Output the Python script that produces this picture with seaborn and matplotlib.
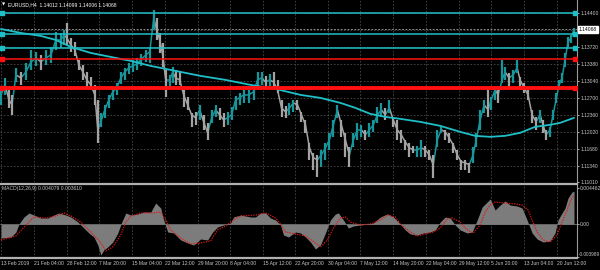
import numpy as np
import pandas as pd
import matplotlib
matplotlib.use("Agg")
import matplotlib.pyplot as plt
import seaborn as sns

# ---------------- data ----------------
bars = [0, 4, 8, 11, 15, 20, 25, 30, 35, 40, 45, 50, 55, 60, 63, 66, 70, 74, 78, 82,
        86, 90, 94, 97, 100, 104, 108, 112, 116, 120, 124, 128, 132, 136, 140, 145, 149, 153, 156, 159,
        162, 165, 169, 172, 175, 179, 183, 187, 191, 195, 199, 203, 207, 211, 215, 219, 223, 227, 231, 235,
        239, 243, 248, 253, 257, 261, 265, 269, 273, 277, 281, 285, 289, 293, 297, 301, 305, 309, 313, 317,
        321, 325, 329, 333, 337, 341, 345, 349, 353, 357, 361, 365, 369, 373, 377, 381, 385, 389, 393, 397,
        401, 405, 409, 413, 417, 421, 425, 429, 433, 437, 441, 445, 449, 453, 457, 461, 465, 469, 473, 476,
        480, 484, 488, 491, 495, 498, 502, 505, 509, 513, 517, 520, 524, 528, 532, 536, 540, 543, 546, 550,
        553, 556, 559, 562, 565, 568, 571, 574]
high = [1.12894, 1.13094, 1.12854, 1.12754, 1.13294, 1.13214, 1.13394, 1.13654, 1.13614, 1.13554, 1.13654, 1.13714, 1.14014, 1.13994, 1.14054, 1.14194, 1.13894, 1.13814, 1.13454, 1.13354,
        1.13214, 1.13114, 1.12954, 1.12654, 1.12394, 1.12554, 1.12754, 1.12894, 1.12994, 1.13214, 1.13294, 1.13394, 1.13454, 1.13494, 1.13574, 1.13654, 1.13694, 1.14454, 1.14294, 1.13994,
        1.13794, 1.13254, 1.13154, 1.13314, 1.13254, 1.13214, 1.12854, 1.12714, 1.12394, 1.12414, 1.12554, 1.12354, 1.12194, 1.12454, 1.12554, 1.12494, 1.12394, 1.12414, 1.12514, 1.12734,
        1.12794, 1.12854, 1.12854, 1.12894, 1.13214, 1.13214, 1.13134, 1.13174, 1.13214, 1.13054, 1.12654, 1.12534, 1.12594, 1.12654, 1.12654, 1.12414, 1.12254, 1.11794, 1.11594, 1.11554,
        1.11654, 1.11794, 1.11994, 1.12254, 1.12554, 1.12254, 1.11994, 1.11714, 1.11994, 1.12194, 1.12154, 1.12054, 1.12194, 1.12254, 1.12514, 1.12594, 1.12494, 1.12654, 1.12314, 1.12254,
        1.12054, 1.11854, 1.11794, 1.11734, 1.11734, 1.11854, 1.11734, 1.11654, 1.11554, 1.12054, 1.12114, 1.12054, 1.11994, 1.11794, 1.11654, 1.11454, 1.11454, 1.11394, 1.11714, 1.11994,
        1.12454, 1.12654, 1.12914, 1.12714, 1.12914, 1.12854, 1.13454, 1.13314, 1.13194, 1.13254, 1.13454, 1.13114, 1.12994, 1.12854, 1.12454, 1.12314, 1.12454, 1.12254, 1.12054, 1.12114,
        1.12454, 1.12794, 1.13054, 1.13194, 1.13594, 1.13914, 1.13954, 1.14094]
low = [1.12554, 1.12754, 1.12494, 1.12354, 1.13014, 1.12954, 1.13054, 1.13254, 1.13334, 1.13254, 1.13354, 1.13394, 1.13654, 1.13694, 1.13754, 1.13754, 1.13614, 1.13534, 1.13254, 1.13054,
       1.12894, 1.12854, 1.12554, 1.11794, 1.12114, 1.12294, 1.12494, 1.12654, 1.12754, 1.12974, 1.13054, 1.13174, 1.13214, 1.13254, 1.13334, 1.13414, 1.13394, 1.14054, 1.13854, 1.13594,
       1.13314, 1.12714, 1.12894, 1.12994, 1.12954, 1.12954, 1.12514, 1.12454, 1.12114, 1.12154, 1.12254, 1.12054, 1.11854, 1.12194, 1.12314, 1.12254, 1.12114, 1.12154, 1.12254, 1.12454,
       1.12554, 1.12594, 1.12594, 1.12654, 1.12854, 1.12954, 1.12914, 1.12934, 1.12914, 1.12794, 1.12314, 1.12294, 1.12354, 1.12414, 1.12454, 1.12214, 1.11994, 1.11454, 1.11254, 1.11114,
       1.11314, 1.11454, 1.11654, 1.11914, 1.12294, 1.11914, 1.11514, 1.11314, 1.11714, 1.11854, 1.11914, 1.11854, 1.11914, 1.12014, 1.12194, 1.12314, 1.12254, 1.12394, 1.12114, 1.11854,
       1.11794, 1.11654, 1.11514, 1.11594, 1.11514, 1.11514, 1.11514, 1.11454, 1.11094, 1.11714, 1.11994, 1.11854, 1.11794, 1.11594, 1.11454, 1.11254, 1.11254, 1.11194, 1.11394, 1.11714,
       1.12054, 1.12394, 1.12314, 1.12454, 1.12654, 1.12594, 1.12994, 1.13054, 1.12914, 1.12994, 1.13194, 1.12854, 1.12794, 1.12654, 1.12194, 1.12054, 1.12194, 1.11994, 1.11854, 1.11914,
       1.12254, 1.12594, 1.12854, 1.12994, 1.13314, 1.13714, 1.13794, 1.13994]
close = [1.12754, 1.12954, 1.12654, 1.12554, 1.13154, 1.13094, 1.13214, 1.13414, 1.13494, 1.13414, 1.13494, 1.13554, 1.13854, 1.13854, 1.13954, 1.13894, 1.13754, 1.13654, 1.13354, 1.13214,
         1.13054, 1.12954, 1.12754, 1.12054, 1.12214, 1.12454, 1.12654, 1.12814, 1.12894, 1.13094, 1.13214, 1.13294, 1.13334, 1.13374, 1.13454, 1.13554, 1.13614, 1.14294, 1.14054, 1.13854,
         1.13554, 1.13054, 1.13054, 1.13214, 1.13094, 1.13054, 1.12754, 1.12554, 1.12354, 1.12294, 1.12454, 1.12214, 1.11994, 1.12294, 1.12454, 1.12354, 1.12254, 1.12294, 1.12354, 1.12654,
         1.12694, 1.12754, 1.12754, 1.12814, 1.13054, 1.13094, 1.13014, 1.13054, 1.13014, 1.12854, 1.12494, 1.12414, 1.12494, 1.12594, 1.12554, 1.12354, 1.12154, 1.11694, 1.11494, 1.11454,
         1.11554, 1.11694, 1.11854, 1.12154, 1.12454, 1.12154, 1.11854, 1.11554, 1.11854, 1.12054, 1.12054, 1.11954, 1.12054, 1.12154, 1.12354, 1.12454, 1.12354, 1.12494, 1.12254, 1.12054,
         1.11954, 1.11814, 1.11694, 1.11654, 1.11654, 1.11694, 1.11654, 1.11554, 1.11354, 1.11854, 1.12054, 1.12014, 1.11894, 1.11754, 1.11554, 1.11414, 1.11394, 1.11354, 1.11554, 1.11854,
         1.12254, 1.12554, 1.12454, 1.12654, 1.12854, 1.12754, 1.13054, 1.13214, 1.13094, 1.13154, 1.13294, 1.13054, 1.12894, 1.12754, 1.12354, 1.12214, 1.12354, 1.12154, 1.11954, 1.12054,
         1.12354, 1.12654, 1.12954, 1.13094, 1.13454, 1.13814, 1.13894, 1.14068]

ma_bars = [0, 20, 40, 55, 70, 90, 110, 130, 150, 175, 200, 225, 250, 275, 300, 320,
           340, 355, 370, 385, 400, 420, 440, 460, 475, 490, 505, 520, 535, 550, 560, 574]
ma_price = [1.14074, 1.13994, 1.13934, 1.13854, 1.13714, 1.13594, 1.13514, 1.13434, 1.13334, 1.13234,
            1.13134, 1.13054, 1.12954, 1.12874, 1.12754, 1.12694, 1.12594, 1.12494, 1.12374, 1.12314,
            1.12274, 1.12214, 1.12134, 1.12014, 1.11934, 1.11914, 1.11934, 1.11994, 1.12114, 1.12154,
            1.12194, 1.12294]

macd_bars = [0, 10, 15, 18, 23, 28, 33, 40, 47, 53, 58, 65, 70, 77, 83, 88, 93, 97, 100, 103,
             107, 112, 117, 121, 125, 130, 137, 143, 150, 155, 160, 163, 167, 173, 180, 187, 193, 200, 207, 212,
             217, 223, 230, 233, 240, 250, 255, 260, 265, 270, 275, 280, 283, 288, 295, 300, 305, 310, 315, 320,
             325, 330, 335, 338, 343, 348, 353, 360, 367, 373, 380, 387, 393, 400, 405, 410, 417, 423, 430, 435,
             440, 445, 450, 455, 460, 467, 472, 477, 482, 487, 490, 495, 500, 505, 510, 517, 522, 527, 532, 537,
             543, 550, 555, 558, 562, 565, 568, 572, 574]
macd_main = [-1.69, -1.56, -0.95, 0.04, 0.90, 1.39, 1.14, 0.77, 0.77, 1.14, 1.39, 1.14, 0.90, 0.28, -0.46, -1.07, -1.56, -2.55, -3.78, -3.16,
             -2.79, -2.18, -1.07, 0.28, 1.39, 1.14, 1.27, 1.51, 1.51, 2.62, 2.00, 0.53, -0.95, -1.07, -1.93, -2.30, -2.55, -1.81, -1.93, -0.95,
             -0.33, -0.09, 0.16, 0.90, 1.14, 0.90, 0.90, 1.39, 1.39, 0.77, 0.53, -0.09, -1.32, -1.56, -0.95, -1.07, -1.56, -2.18, -3.04, -2.55,
             -1.07, 0.53, 1.27, 1.39, 0.53, -0.46, -0.21, -0.09, 0.04, 0.16, 0.90, 1.27, 0.90, 0.04, -0.70, -1.19, -1.32, -1.07, -0.95, -0.70,
             0.28, 0.90, 0.77, -0.09, -0.70, -1.07, -0.95, 0.53, 2.13, 2.74, 3.11, 1.76, 2.37, 2.87, 2.37, 2.25, 2.00, 0.53, -1.07, -1.81,
             -2.18, -2.06, -1.07, 0.53, 1.39, 2.00, 3.23, 3.97, 4.079]
sig_bars = [0, 15, 25, 33, 45, 55, 63, 70, 80, 90, 100, 105, 112, 120, 125, 130, 140, 150, 160, 165,
            170, 180, 190, 200, 210, 217, 225, 233, 240, 255, 265, 275, 280, 285, 295, 305, 315, 320, 327, 333,
            340, 345, 350, 360, 370, 380, 387, 395, 400, 410, 417, 425, 433, 440, 447, 452, 460, 467, 473, 480,
            485, 490, 495, 505, 515, 522, 528, 532, 537, 543, 550, 557, 562, 567, 571, 574]
macd_signal = [-1.93, -1.44, -0.09, 0.90, 0.77, 1.02, 1.39, 1.02, 0.28, -0.95, -2.30, -3.28, -2.79, -1.32, 0.28, 1.02, 1.39, 1.39, 1.51, 0.53,
               -0.70, -1.69, -2.42, -2.30, -2.05, -0.70, -0.21, 0.53, 1.02, 1.14, 1.39, 0.77, 0.04, -0.95, -1.19, -1.44, -2.30, -2.79, -1.93, -0.46,
               0.77, 0.90, 0.28, -0.09, 0.04, 0.53, 1.14, 0.90, 0.04, -0.95, -1.44, -1.19, -0.95, -0.46, 0.65, 0.77, 0.28, -0.70, -1.07, -0.09,
               1.51, 2.37, 2.74, 2.62, 2.50, 2.37, 1.76, 0.53, -0.95, -1.93, -2.18, -1.32, 0.28, 1.76, 2.99, 3.610]

date_ticks = [0, 33, 66, 98, 131, 164, 197, 229, 262, 295, 328, 360, 393, 426, 459, 491, 524, 557]
date_labels = ["13 Feb 2019", "21 Feb 04:00", "28 Feb 12:00", "7 Mar 20:00", "15 Mar 04:00",
               "22 Mar 12:00", "29 Mar 20:00", "8 Apr 04:00", "15 Apr 12:00", "22 Apr 20:00",
               "30 Apr 04:00", "7 May 12:00", "14 May 20:00", "22 May 04:00", "29 May 12:00",
               "5 Jun 20:00", "13 Jun 04:00", "20 Jun 12:00"]
price_ticks = [1.14400, 1.14060, 1.13720, 1.13380, 1.13040, 1.12700, 1.12360, 1.12020, 1.11680, 1.11340, 1.11010]
price_labels = ["1.14400", "", "1.13720", "1.13380", "1.13040", "1.12700", "1.12360", "1.12020", "1.11680", "1.11340", "1.11010"]
levels_cyan = [1.14400, 1.13974, 1.13688]
levels_red_thin = [1.13468]
levels_red_thick = [1.12888]
last_price = 1.14068
macd_top, macd_zero, macd_bottom = 0.004462, 0.0, -0.003989
macd_tick_labels = ["0.004462", "0.00", "-0.003989"]

# ---------------- style ----------------
sns.set_style("dark")
FONT = ["Liberation Sans Narrow", "Liberation Sans", "DejaVu Sans"]
plt.rcParams["font.family"] = FONT
TXT = "#c8c8c8"
GRID = "#4a4a4a"
TEAL = "#17979c"
GRAY = "#a3a3a3"
CYAN = "#1fbfc8"
RED = "#ff1010"
FS = 3.6

fig = plt.figure(figsize=(6, 2.7), dpi=100, facecolor="black")
ax1 = fig.add_axes([0, 1 - 182 / 270, 577 / 600, 182 / 270])
ax2 = fig.add_axes([0, 1 - 258 / 270, 577 / 600, 74 / 270])
for ax in (ax1, ax2):
    ax.set_facecolor("black")
    for s in ax.spines.values():
        s.set_visible(False)
    ax.spines["right"].set_visible(True)
    ax.spines["right"].set_color("#9a9a9a")
    ax.spines["right"].set_linewidth(0.8)
    ax.set_xlim(-1, 577)
    ax.set_xticks(date_ticks)
    ax.grid(True, axis="x", color=GRID, linestyle=(0, (2, 2)), linewidth=0.6)

# main panel
ax1.set_ylim(1.11014, 1.14654)
ax1.set_yticks(price_ticks)
ax1.set_yticklabels(price_labels)
ax1.yaxis.tick_right()
ax1.tick_params(axis="y", colors=TXT, labelsize=FS, length=1.5, pad=0.8, width=0.6)
ax1.tick_params(axis="x", length=0, labelbottom=False)
ax1.grid(True, axis="y", color=GRID, linestyle=(0, (2, 2)), linewidth=0.6)
ax1.set_axisbelow(True)

df = pd.DataFrame({"bar": bars, "high": high, "low": low, "close": close})
up = df["close"].diff().fillna(0) >= 0
cols = np.where(up, TEAL, GRAY)
for i in range(1, len(df)):
    ax1.plot(df["bar"].iloc[i - 1:i + 1], df["close"].iloc[i - 1:i + 1], color=cols[i], lw=1.1, zorder=3)
ax1.vlines(df["bar"], df["low"], df["high"], colors=cols, lw=1.6, zorder=3)

ma = pd.DataFrame({"bar": ma_bars, "price": ma_price})
sns.lineplot(data=ma, x="bar", y="price", ax=ax1, color=CYAN, lw=1.3, zorder=4)

def level(lv, color, lw):
    ax1.axhline(lv, color=color, lw=lw, zorder=5)
    ax1.plot([0.003, 0.997], [lv, lv], transform=ax1.get_yaxis_transform(), ls="none",
             marker="s", ms=2.6, color=color, zorder=6)

for lv in levels_cyan:
    level(lv, CYAN, 1.1)
for lv in levels_red_thin:
    level(lv, RED, 1.1)
for lv in levels_red_thick:
    level(lv, RED, 2.8)
ax1.axhline(last_price, color="#8a8a8a", lw=0.7, linestyle=(0, (2, 1.5)), zorder=2)
ax1.text(1.003, last_price, "1.14068", transform=ax1.get_yaxis_transform(), fontsize=FS,
         color="black", va="center", ha="left", clip_on=False,
         bbox=dict(boxstyle="square,pad=0.2", fc="white", ec="white"))
ax1.text(0.004, 0.975, "\u25bc", transform=ax1.transAxes,
         fontsize=3.0, color="white", va="center", ha="left", family=["DejaVu Sans"])
ax1.text(0.013, 0.975, "EURUSD,H4  1.14012 1.14099 1.14006 1.14068", transform=ax1.transAxes,
         fontsize=3.6, color="white", va="center", ha="left")
ax1.set_xlabel("")
ax1.set_ylabel("")

# MACD panel
ax2.set_ylim(-0.00415, 0.00496)
md = pd.DataFrame({"bar": macd_bars, "v": np.array(macd_main) * 1e-3})
ax2.fill_between(md["bar"], 0, md["v"], color="#7c7c7c", lw=0, zorder=2)
sg = pd.DataFrame({"bar": sig_bars, "v": np.array(macd_signal) * 1e-3})
sns.lineplot(data=sg, x="bar", y="v", ax=ax2, color="#e01818", lw=0.9, linestyle=(0, (1, 1)), zorder=3)
ax2.axhline(0, color="#707070", lw=0.6, zorder=1)
ax2.set_yticks([macd_top, macd_zero, macd_bottom])
ax2.set_yticklabels(["", "", ""])
ax2.yaxis.tick_right()
ax2.tick_params(axis="y", colors=TXT, length=1.5, width=0.6)
yt = ax2.get_yaxis_transform()
ax2.text(1.005, macd_top, macd_tick_labels[0], transform=yt, fontsize=FS, color=TXT,
         va="center", ha="left", clip_on=False)
ax2.text(1.005, macd_zero, macd_tick_labels[1], transform=yt, fontsize=FS, color=TXT,
         va="center", ha="left", clip_on=False)
ax2.text(1.003, macd_bottom, macd_tick_labels[2], transform=yt, fontsize=3.4, color=TXT,
         va="bottom", ha="left", clip_on=False)
ax2.set_xticklabels(date_labels, ha="left")
ax2.tick_params(axis="x", colors=TXT, labelsize=3.6, length=0, pad=2)
ax2.spines["top"].set_visible(True)
ax2.spines["top"].set_color("#b0b0b0")
ax2.spines["top"].set_linewidth(1.6)
ax2.spines["bottom"].set_visible(True)
ax2.spines["bottom"].set_color("#b0b0b0")
ax2.spines["bottom"].set_linewidth(1.6)
ax2.text(0.004, 0.94, "MACD(12,26,9) 0.004079 0.003610", transform=ax2.transAxes,
         fontsize=3.6, color=TXT, va="center", ha="left")
ax2.set_xlabel("")
ax2.set_ylabel("")

fig.savefig("out.png", dpi=100, facecolor="black")
